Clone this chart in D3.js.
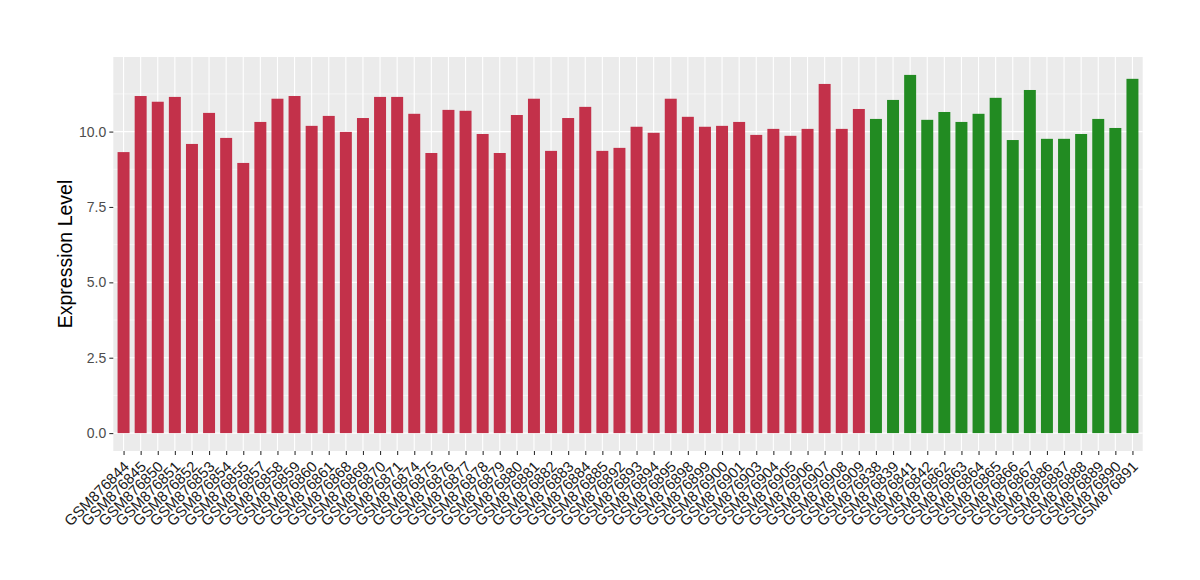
<!DOCTYPE html>
<html>
<head>
<meta charset="utf-8">
<script src="https://cdn.jsdelivr.net/npm/d3@7"></script>
<style>
  body { margin: 0; background: #fff; }
  svg { display: block; }
  text { font-family: "Liberation Sans", Arial, Helvetica, sans-serif; }
</style>
</head>
<body>
<svg id="chart" width="1200" height="580"></svg>
<script>
const groupASamples = ["GSM876844","GSM876845","GSM876850","GSM876851","GSM876852","GSM876853","GSM876854","GSM876855","GSM876857","GSM876858","GSM876859","GSM876860","GSM876861","GSM876868","GSM876869","GSM876870","GSM876871","GSM876874","GSM876875","GSM876876","GSM876877","GSM876878","GSM876879","GSM876880","GSM876881","GSM876882","GSM876883","GSM876884","GSM876885","GSM876892","GSM876893","GSM876894","GSM876895","GSM876898","GSM876899","GSM876900","GSM876901","GSM876903","GSM876904","GSM876905","GSM876906","GSM876907","GSM876908","GSM876909"];
const groupAValues = [9.32,11.18,10.99,11.15,9.59,10.62,9.79,8.96,10.32,11.09,11.18,10.19,10.52,9.99,10.45,11.15,11.15,10.59,9.29,10.72,10.69,9.92,9.29,10.55,11.09,9.36,10.45,10.82,9.36,9.46,10.16,9.96,11.09,10.49,10.16,10.19,10.32,9.89,10.09,9.86,10.09,11.58,10.09,10.75];
const groupBSamples = ["GSM876838","GSM876839","GSM876841","GSM876842","GSM876862","GSM876863","GSM876864","GSM876865","GSM876866","GSM876867","GSM876886","GSM876887","GSM876888","GSM876889","GSM876890","GSM876891"];
const groupBValues = [10.42,11.05,11.88,10.39,10.65,10.32,10.59,11.12,9.72,11.38,9.76,9.76,9.92,10.42,10.12,11.75];
const yTicks = [0, 2.5, 5, 7.5, 10];
const yTitle = "Expression Level";
const colorA = "#C3314A";
const colorB = "#228B22";

const data = groupASamples.map((s, i) => ({sample: s, value: groupAValues[i], color: colorA}))
  .concat(groupBSamples.map((s, i) => ({sample: s, value: groupBValues[i], color: colorB})));

const svg = d3.select("#chart");
const panel = {left: 113.3, right: 1142.7, top: 57, bottom: 451};

const n = data.length;
const maxV = d3.max(data, d => d.value);
const step = (panel.right - panel.left) / (n + 0.2);
const x = d3.scalePoint().domain(data.map(d => d.sample))
  .range([panel.left + step * 0.6, panel.right - step * 0.6]);
const barW = step * 0.7;
const y = d3.scaleLinear().domain([-maxV * 0.05, maxV * 1.05]).range([panel.bottom, panel.top]);

// panel background
svg.append("rect").attr("x", panel.left).attr("y", panel.top)
  .attr("width", panel.right - panel.left).attr("height", panel.bottom - panel.top)
  .attr("fill", "#EBEBEB");

// minor y grid
const minor = [1.25, 3.75, 6.25, 8.75, 11.25];
svg.append("g").selectAll("line").data(minor).join("line")
  .attr("x1", panel.left).attr("x2", panel.right)
  .attr("y1", d => y(d)).attr("y2", d => y(d))
  .attr("stroke", "#fff").attr("stroke-width", 0.55);
// major y grid
svg.append("g").selectAll("line").data(yTicks).join("line")
  .attr("x1", panel.left).attr("x2", panel.right)
  .attr("y1", d => y(d)).attr("y2", d => y(d))
  .attr("stroke", "#fff").attr("stroke-width", 1.1);
// major x grid
svg.append("g").selectAll("line").data(data).join("line")
  .attr("x1", d => x(d.sample)).attr("x2", d => x(d.sample))
  .attr("y1", panel.top).attr("y2", panel.bottom)
  .attr("stroke", "#fff").attr("stroke-width", 1.1);

// bars
svg.append("g").selectAll("rect").data(data).join("rect")
  .attr("x", d => x(d.sample) - barW / 2)
  .attr("width", barW)
  .attr("y", d => y(d.value))
  .attr("height", d => y(0) - y(d.value))
  .attr("fill", d => d.color);

// y axis
const yAxis = d3.axisLeft(y).tickValues(yTicks).tickFormat(d3.format(".1f")).tickSize(4).tickPadding(3);
const gy = svg.append("g").attr("transform", `translate(${panel.left},0)`).call(yAxis);
gy.select(".domain").remove();
gy.selectAll(".tick line").attr("stroke", "#333").attr("stroke-width", 1.1);
gy.selectAll(".tick text").attr("fill", "#4D4D4D").style("font-size", "14px")
  .style("font-family", "'Liberation Sans', Arial, sans-serif");

// x axis
const xAxis = d3.axisBottom(x).tickSize(4).tickPadding(2);
const gx = svg.append("g").attr("transform", `translate(0,${panel.bottom})`).call(xAxis);
gx.select(".domain").remove();
gx.selectAll(".tick line").attr("stroke", "#333").attr("stroke-width", 1.1);
gx.selectAll(".tick text")
  .attr("fill", "#1a1a1a")
  .style("font-size", "15px")
  .style("font-family", "'Liberation Sans', Arial, sans-serif")
  .attr("text-anchor", "end")
  .attr("x", 0).attr("y", 0)
  .attr("dy", "0")
  .attr("transform", "translate(6,16.5) rotate(-45)");

// y title
svg.append("text")
  .attr("transform", `translate(72,${(panel.top + panel.bottom) / 2}) rotate(-90)`)
  .attr("text-anchor", "middle")
  .style("font-size", "19.5px")
  .attr("fill", "#000")
  .text(yTitle);
</script>
</body>
</html>
